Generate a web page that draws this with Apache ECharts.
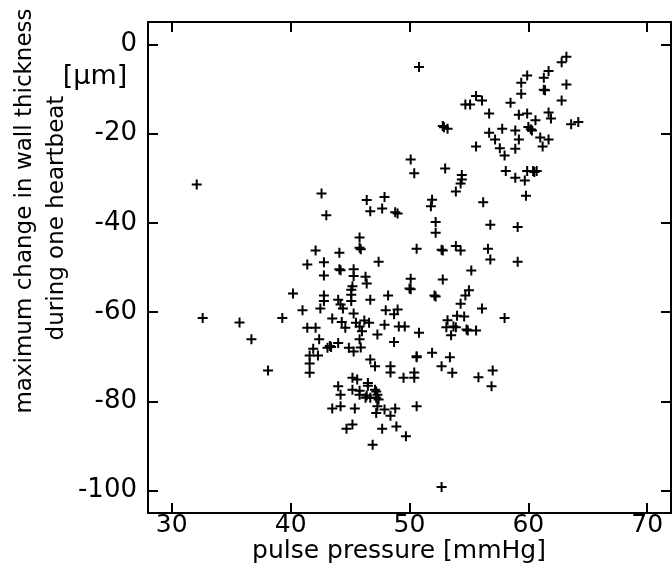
<!DOCTYPE html>
<html>
<head>
<meta charset="utf-8">
<script src="https://cdn.jsdelivr.net/npm/echarts@6/dist/echarts.min.js"></script>
<style>
  html, body { margin: 0; padding: 0; background: #fff; }
  #chart { width: 672px; height: 582px; }
</style>
</head>
<body>
<div id="chart"></div>
<script>
// pulse pressure [mmHg]
const pulsePressure = [
  32.1, 32.6, 35.7, 36.7, 38.1, 39.3, 40.2, 41.0, 41.4, 42.1,
  42.4, 41.9, 41.6, 42.3, 41.6, 41.6, 43.1, 42.6, 43.0, 42.1,
  41.4, 42.8, 42.8, 42.8, 42.8, 42.5, 46.4, 47.9, 46.7, 47.7,
  48.8, 49.0, 45.8, 45.8, 45.9, 44.1, 47.4, 44.1, 44.2, 45.3,
  45.3, 46.3, 46.4, 45.2, 45.1, 45.1, 45.1, 44.0, 44.2, 46.7,
  48.2, 44.4, 45.3, 48.0, 49.0, 48.7, 43.5, 44.3, 45.5, 46.2,
  46.6, 45.8, 46.0, 47.9, 49.1, 49.6, 44.6, 47.3, 45.8, 45.9,
  43.3, 43.4, 44.0, 44.9, 45.3, 48.7, 46.7, 47.1, 48.4, 48.4,
  49.5, 45.2, 45.6, 46.5, 44.0, 45.2, 45.8, 46.5, 47.1, 47.2,
  47.3, 44.2, 45.8, 46.3, 46.7, 47.4, 47.2, 47.3, 47.2, 46.4,
  43.5, 44.2, 45.4, 47.9, 48.4, 48.8, 50.6, 45.2, 44.7, 47.7,
  48.9, 49.7, 46.9, 52.7, 50.8, 55.6, 56.1, 54.7, 55.1, 52.8,
  53.2, 52.9, 55.6, 50.1, 50.4, 53.0, 54.4, 54.4, 54.3, 53.9,
  51.9, 51.8, 56.2, 52.2, 52.2, 50.6, 52.7, 52.8, 53.9, 54.3,
  55.2, 50.1, 52.8, 50.0, 50.1, 52.1, 52.2, 55.0, 54.7, 54.3,
  56.1, 54.0, 54.6, 53.2, 53.1, 53.7, 53.9, 54.8, 54.9, 55.6,
  50.8, 53.5, 50.6, 50.6, 51.9, 53.4, 52.7, 53.6, 55.8, 50.4,
  50.4, 57.0, 56.9, 58.0, 63.2, 62.8, 61.7, 61.3, 59.9, 59.4,
  63.2, 61.3, 61.4, 59.4, 62.8, 58.5, 56.7, 59.2, 59.9, 61.7,
  61.9, 60.6, 60.0, 60.3, 60.2, 63.6, 64.2, 57.8, 58.9, 56.7,
  57.2, 59.2, 61.0, 61.7, 61.2, 57.6, 58.0, 58.9, 58.1, 58.9,
  59.7, 59.9, 60.4, 60.5, 60.7, 59.8, 56.8, 59.1, 56.6, 56.8,
  59.1
]

// maximum change in wall thickness [um]
const wallChange = [
  -31.4, -61.3, -62.3, -66.1, -73.1, -61.3, -55.8, -59.6, -63.5, -63.5,
  -66.1, -68.2, -69.7, -69.7, -71.5, -73.6, -68.0, -33.4, -38.3, -46.2,
  -49.3, -48.8, -51.8, -56.3, -57.5, -59.2, -34.9, -34.2, -37.4, -36.8,
  -37.6, -37.9, -43.3, -45.6, -45.9, -46.7, -48.7, -50.4, -50.6, -50.4,
  -51.9, -52.1, -53.6, -54.2, -55.0, -56.1, -57.5, -57.2, -58.3, -57.2,
  -56.3, -59.2, -60.3, -59.6, -59.4, -60.5, -61.4, -62.2, -62.4, -61.9,
  -62.4, -63.2, -64.3, -62.8, -63.2, -63.2, -63.5, -65.0, -66.1, -67.9,
  -67.6, -67.8, -66.9, -68.0, -68.8, -66.7, -70.6, -72.1, -72.1, -73.5,
  -74.7, -74.7, -75.1, -75.9, -76.6, -77.4, -77.6, -76.5, -77.4, -77.8,
  -78.5, -78.5, -78.5, -79.2, -79.2, -79.6, -79.2, -81.1, -82.6, -78.7,
  -81.6, -81.1, -81.6, -81.8, -83.2, -81.6, -81.1, -85.2, -86.1, -86.1,
  -85.6, -87.8, -89.7, -99.2, -5.1, -11.6, -12.6, -13.5, -13.5, -18.3,
  -18.9, -18.6, -22.9, -25.8, -28.9, -27.8, -29.3, -30.3, -31.2, -33.0,
  -34.8, -36.3, -35.4, -39.8, -42.2, -45.8, -46.0, -46.2, -45.2, -46.2,
  -50.7, -52.5, -52.7, -54.7, -54.9, -56.3, -56.5, -55.1, -56.3, -58.1,
  -59.2, -60.8, -61.0, -61.8, -63.4, -63.2, -63.4, -63.9, -64.1, -64.1,
  -64.6, -65.2, -69.9, -70.1, -69.1, -70.1, -72.1, -73.6, -74.6, -73.5,
  -74.7, -73.1, -76.6, -61.3, -2.8, -4.0, -6.0, -7.5, -7.0, -8.6,
  -9.0, -10.2, -10.3, -11.1, -12.6, -13.1, -15.5, -15.8, -15.5, -15.3,
  -16.6, -17.0, -18.5, -19.3, -19.0, -17.9, -17.4, -18.9, -19.3, -19.8,
  -21.3, -21.3, -20.9, -21.3, -22.9, -23.3, -24.9, -23.4, -28.4, -29.9,
  -30.5, -28.4, -28.4, -28.6, -28.4, -33.9, -40.4, -40.9, -45.8, -48.2,
  -48.7
]

const xTicks = [30, 40, 50, 60, 70]
const yTicks = [0, -20, -40, -60, -80, -100]

const FONT = 'DejaVu Sans'
// plus sign, 10x10 box with 2px arms
const plusSymbol = 'path://M4,0H6V4H10V6H6V10H4V6H0V4H4Z'

const chart = echarts.init(document.getElementById('chart'), null, { renderer: 'canvas' })

const frameLine = { show: true, onZero: false, lineStyle: { color: '#000', width: 2 } }
const innerTick = values => ({
  show: true, inside: true, length: 10, customValues: values,
  lineStyle: { color: '#000', width: 2 }
})

chart.setOption({
  animation: false,
  backgroundColor: '#fff',
  grid: { left: 148, right: 1, top: 22, bottom: 69 },
  xAxis: [{
    type: 'value', min: 28, max: 72, position: 'bottom',
    axisLine: frameLine,
    axisTick: innerTick(xTicks),
    axisLabel: { customValues: xTicks, color: '#000', fontFamily: FONT, fontSize: 25, margin: 0 },
    splitLine: { show: false }
  }, {
    type: 'value', min: 28, max: 72, position: 'top',
    axisLine: frameLine,
    axisTick: innerTick(xTicks),
    axisLabel: { show: false },
    splitLine: { show: false }
  }],
  yAxis: [{
    type: 'value', min: -105, max: 5, position: 'left',
    axisLine: frameLine,
    axisTick: innerTick(yTicks),
    axisLabel: { customValues: yTicks, color: '#000', fontFamily: FONT, fontSize: 26, margin: 11 },
    splitLine: { show: false }
  }, {
    type: 'value', min: -105, max: 5, position: 'right',
    axisLine: frameLine,
    axisTick: innerTick(yTicks),
    axisLabel: { show: false },
    splitLine: { show: false }
  }],
  graphic: [
    { type: 'text', x: 95, y: 77,
      style: { text: '[μm]', font: '27px "DejaVu Sans"', fill: '#000', align: 'center', verticalAlign: 'middle' } },
    { type: 'text', x: 25, y: 211, rotation: Math.PI / 2,
      style: { text: 'maximum change in wall thickness', font: '23px "DejaVu Sans"', fill: '#000', align: 'center', verticalAlign: 'middle' } },
    { type: 'text', x: 57, y: 218, rotation: Math.PI / 2,
      style: { text: 'during one heartbeat', font: '23px "DejaVu Sans"', fill: '#000', align: 'center', verticalAlign: 'middle' } },
    { type: 'text', x: 399, y: 551,
      style: { text: 'pulse pressure [mmHg]', font: '25px "DejaVu Sans"', fill: '#000', align: 'center', verticalAlign: 'middle' } }
  ],
  series: [{
    type: 'scatter',
    symbol: plusSymbol,
    symbolSize: 10,
    itemStyle: { color: '#000', opacity: 1 },
    data: pulsePressure.map((x, i) => [x, wallChange[i]])
  }]
})
</script>
</body>
</html>
